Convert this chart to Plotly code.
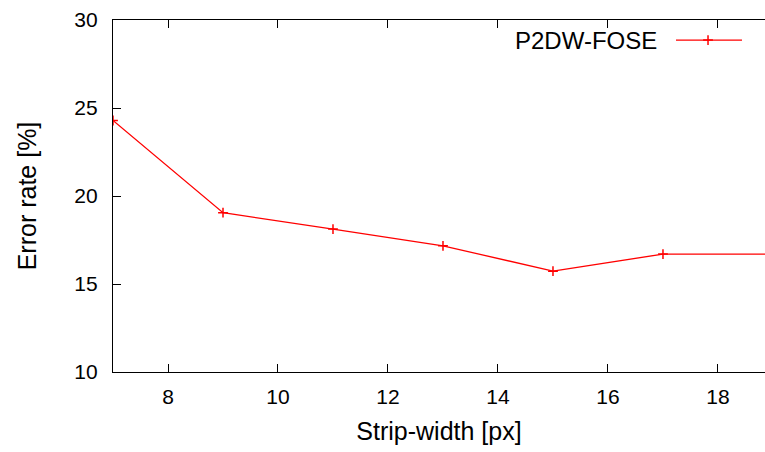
import plotly.graph_objects as go

strip_width = [7, 9, 11, 13, 15, 17, 19]
error_rate = [24.29, 19.05, 18.12, 17.17, 15.73, 16.70, 16.70]
series_name = "P2DW-FOSE"
x_ticks = [8, 10, 12, 14, 16, 18]
y_ticks = [10, 15, 20, 25, 30]

FONT = "Liberation Sans, Arial, Helvetica, sans-serif"
RED = "#ff0000"
FS = 21

fig = go.Figure()
fig.add_trace(go.Scatter(
    x=strip_width, y=error_rate, mode="lines+markers", name=series_name,
    line=dict(color=RED, width=1.3),
    marker=dict(symbol="cross-thin", size=7, line=dict(color=RED, width=1.5)),
    showlegend=False, cliponaxis=True,
))

# legend key (gnuplot style: text left of sample)
leg_y = 0.943
fig.add_trace(go.Scatter(
    x=[0.9126], y=[leg_y], xaxis="x2", yaxis="y2", mode="markers",
    marker=dict(symbol="cross-thin", size=7, line=dict(color=RED, width=1.5)),
    showlegend=False, hoverinfo="skip",
))
fig.add_shape(type="line", xref="paper", yref="paper", x0=0.8635, x1=0.9647,
              y0=leg_y, y1=leg_y, line=dict(color=RED, width=1.3))
fig.add_annotation(text=series_name, xref="paper", yref="paper", x=0.8374, y=leg_y,
                   xanchor="right", yanchor="middle", showarrow=False,
                   font=dict(family=FONT, size=24, color="black"))

fig.update_layout(
    width=765, height=452,
    margin=dict(l=113, r=0, t=20, b=80),
    paper_bgcolor="white", plot_bgcolor="white",
    font=dict(family=FONT, size=FS, color="black"),
    xaxis=dict(
        range=[7, 18.855], tickvals=x_ticks, ticks="inside", ticklen=8,
        tickcolor="black", showline=True, linecolor="black", linewidth=1.2,
        mirror="ticks", showgrid=False, zeroline=False, ticklabelstandoff=6,
        title=dict(text="Strip-width [px]", standoff=15),
    ),
    yaxis=dict(
        range=[10, 30], tickvals=y_ticks, ticks="inside", ticklen=8,
        tickcolor="black", showline=True, linecolor="black", linewidth=1.2,
        mirror=False, showgrid=False, zeroline=False, ticklabelstandoff=10,
        title=dict(text="Error rate [%]", standoff=30),
    ),
    xaxis2=dict(overlaying="x", range=[0, 1], visible=False),
    yaxis2=dict(overlaying="y", range=[0, 1], visible=False),
)

fig.write_html("out.html")
